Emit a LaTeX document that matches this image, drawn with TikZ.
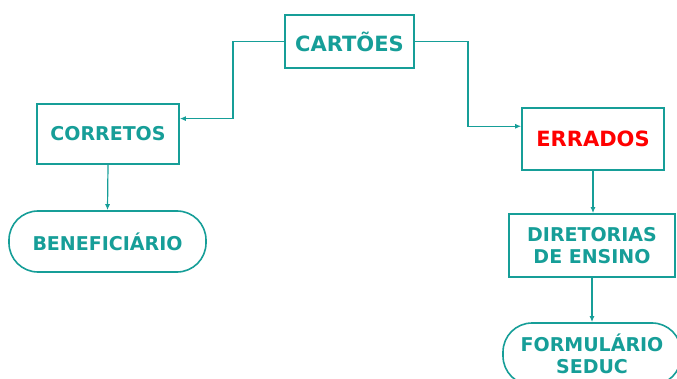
\documentclass[tikz,border=0pt]{standalone}
\usepackage{fontspec}
\setmainfont{DejaVu Sans}
\usetikzlibrary{arrows.meta,calc}
\definecolor{verdeagua}{RGB}{22,158,152}
\definecolor{vermelho}{RGB}{255,0,0}

\tikzset{
  caixa/.style={draw=verdeagua, line width=1.6pt, fill=white, text=verdeagua,
    font=\bfseries\fontsize{19}{22}\selectfont, align=center, inner sep=0pt},
  ovalo/.style={caixa, rounded corners=29pt},
  seta/.style={draw=verdeagua, line width=1.2pt, -{Latex[length=6pt,width=5pt]}},
  liga/.style={draw=verdeagua, line width=1.2pt}
}

\begin{document}
\begin{tikzpicture}[x=1pt, y=-1pt]
\useasboundingbox (0,0) rectangle (677,379);

% Topo
\node[caixa, minimum width=129pt, minimum height=53pt,
  font=\bfseries\fontsize{21}{24}\selectfont] (cartoes) at (349.5,41.5) {CARTÕES};

% Lado esquerdo
\node[caixa, minimum width=142pt, minimum height=60pt] (corretos) at (108,134) {CORRETOS};
\node[ovalo, minimum width=197pt, minimum height=61pt] (benef) at (107.5,241.5) {BENEFICIÁRIO};

% Lado direito
\node[caixa, minimum width=142pt, minimum height=62pt, text=vermelho,
  font=\bfseries\fontsize{21}{24}\selectfont] (errados) at (593,139) {ERRADOS};
\node[caixa, minimum width=166pt, minimum height=63pt] (diretorias) at (592,245.5) {DIRETORIAS\\DE ENSINO};
\node[ovalo, minimum width=178pt, minimum height=62pt] (formulario) at (592,354) {FORMULÁRIO\\SEDUC};

% Ligacoes
\coordinate (entraC) at ($(corretos.north east)!0.25!(corretos.south east)$);
\coordinate (entraE) at ($(errados.north west)!0.3!(errados.south west)$);
\draw[seta] (cartoes.west) -- (233,41.5) |- (entraC);
\draw[seta] (cartoes.east) -- (468,41.5) |- (entraE);
\draw[seta] (corretos.south) -- (benef.north);
\draw[seta] (errados.south) -- (errados.south |- diretorias.north);
\draw[seta] (diretorias.south) -- (formulario.north);
\end{tikzpicture}
\end{document}
